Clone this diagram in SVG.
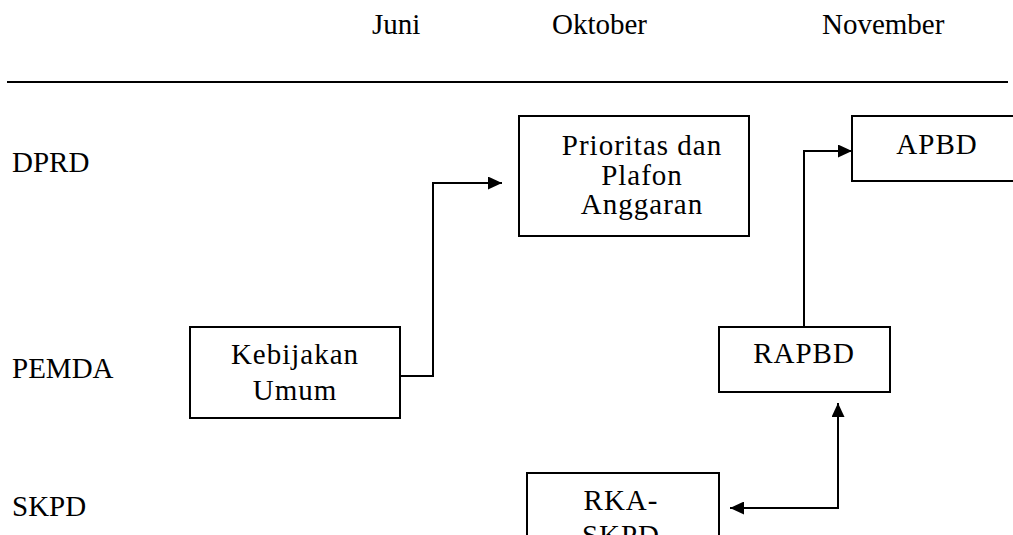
<svg xmlns="http://www.w3.org/2000/svg" width="1013" height="535" viewBox="0 0 1013 535">
<style>
.t{font-family:"Liberation Serif","Times New Roman",serif;font-size:29px;fill:#000}
.bt{font-family:"Liberation Serif","Times New Roman",serif;font-size:29px;fill:#000;letter-spacing:1px;text-anchor:middle}
.box{fill:#fff;stroke:#000;stroke-width:2}
.c{fill:none;stroke:#000;stroke-width:2}
</style>
<defs>
<marker id="ah" markerUnits="userSpaceOnUse" markerWidth="15" markerHeight="13" refX="14" refY="6.5" orient="auto-start-reverse">
<path d="M0,0 L14,6.5 L0,13 z" fill="#000"/>
</marker>
</defs>
<rect width="1013" height="535" fill="#fff"/>
<g id="headers">
<text class="t" x="372" y="34">Juni</text>
<text class="t" x="552" y="34">Oktober</text>
<text class="t" x="822" y="34">November</text>
<line x1="7" y1="82" x2="1008" y2="82" stroke="#000" stroke-width="2"/>
</g>
<g id="rows">
<text class="t" x="12" y="172">DPRD</text>
<text class="t" x="12" y="378">PEMDA</text>
<text class="t" x="12" y="516">SKPD</text>
</g>
<g id="connectors">
<path class="c" d="M400,376 H433 V183 H502" marker-end="url(#ah)"/>
<path class="c" d="M804,327 V151 H852" marker-end="url(#ah)"/>
<path class="c" d="M838,403 V508 H730" marker-start="url(#ah)" marker-end="url(#ah)"/>
</g>
<g id="node-prioritas">
<rect class="box" x="519" y="116" width="230" height="120"/>
<text class="bt" x="642" y="155">Prioritas dan</text>
<text class="bt" x="642" y="185">Plafon</text>
<text class="bt" x="642" y="214">Anggaran</text>
</g>
<g id="node-apbd">
<rect class="box" x="852" y="116" width="170" height="65"/>
<text class="bt" x="937" y="154">APBD</text>
</g>
<g id="node-kebijakan">
<rect class="box" x="190" y="327" width="210" height="91"/>
<text class="bt" x="295" y="364">Kebijakan</text>
<text class="bt" x="295" y="400">Umum</text>
</g>
<g id="node-rapbd">
<rect class="box" x="719" y="327" width="171" height="65"/>
<text class="bt" x="804" y="363">RAPBD</text>
</g>
<g id="node-rka">
<rect class="box" x="527" y="473" width="192" height="90"/>
<text class="bt" x="621" y="510">RKA-</text>
<text class="bt" x="621" y="545">SKPD</text>
</g>
</svg>
